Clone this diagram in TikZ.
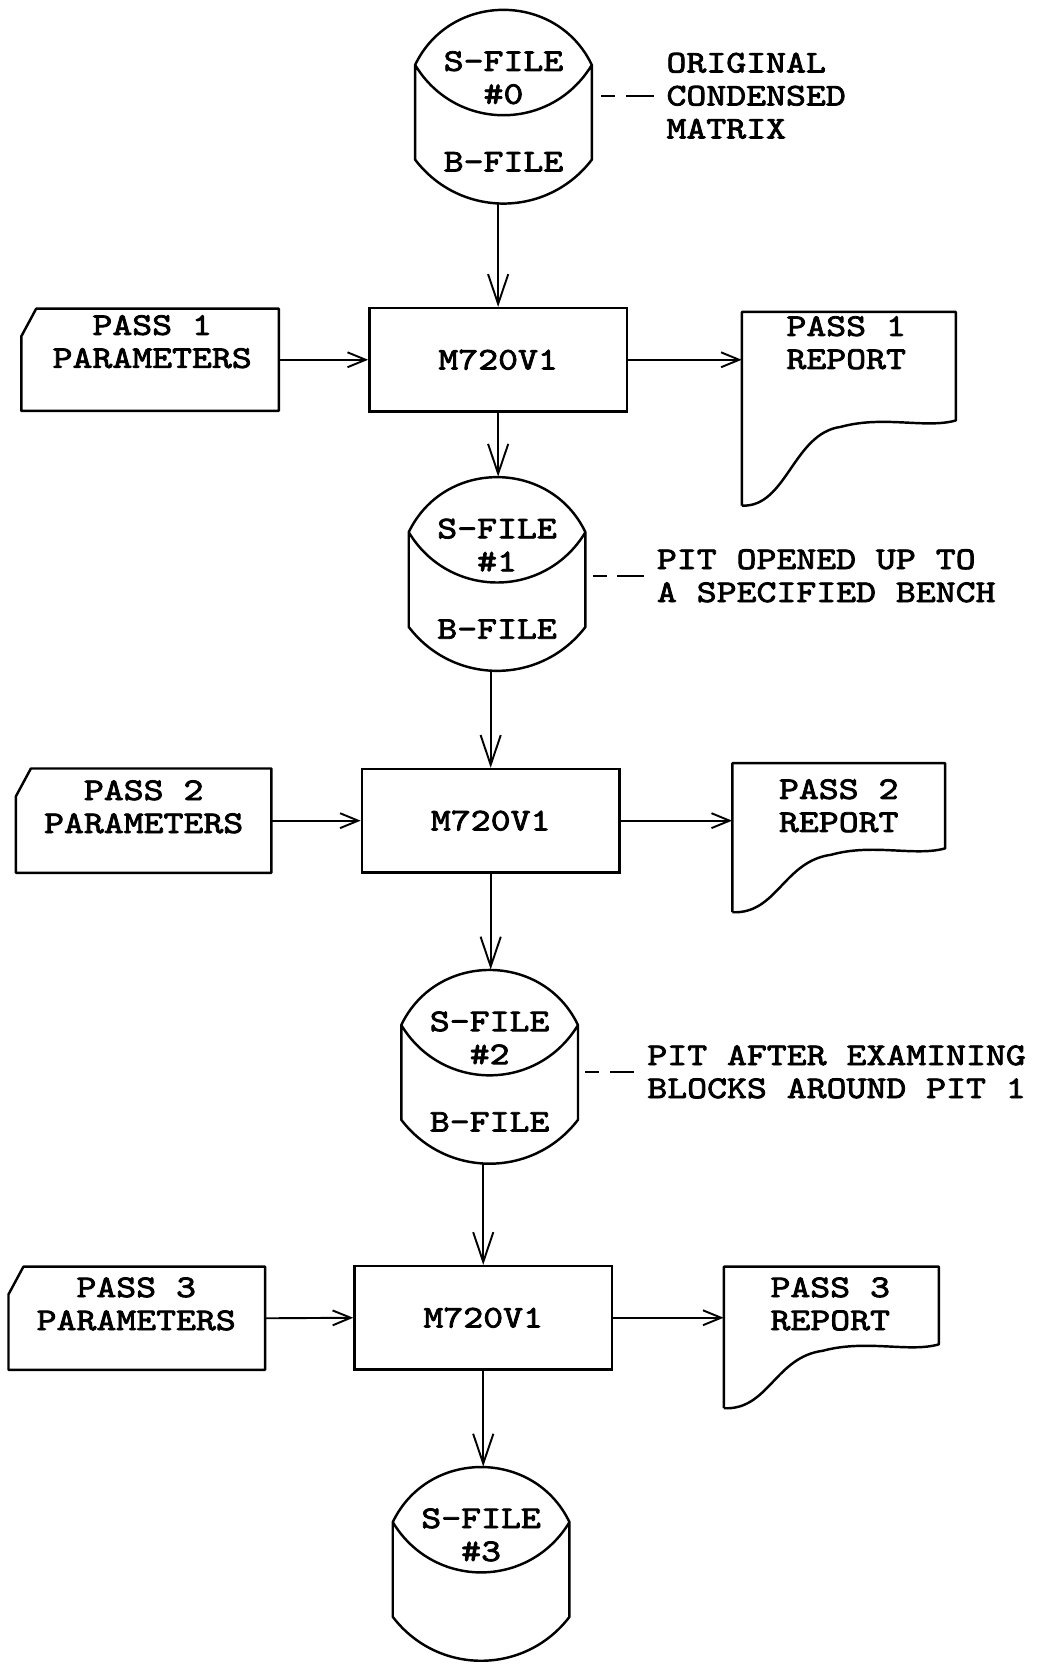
\documentclass[tikz,border=0pt]{standalone}
\usepackage{fontspec}
\newfontfamily\tw{lmmono10-regular.otf}[FakeStretch=1.2,FakeBold=2.5]
\usetikzlibrary{arrows.meta,calc}
\tikzset{
  every node/.style={font=\tw\fontsize{29.7}{31}\selectfont, align=center, inner sep=0pt},
  shp/.style={line width=2.3pt, line join=round},
  proc/.style={draw, line width=2.3pt, minimum width=242pt, minimum height=97pt},
  varr/.style={line width=1.8pt, -{Straight Barb[length=28pt,width=19pt,line width=1.8pt]}},
  harr/.style={line width=1.8pt, -{Straight Barb[length=17pt,width=14pt,line width=1.8pt]}},
  leader/.style={line width=2.2pt, dash pattern=on 13pt off 10pt on 40pt, shorten >=12pt},
}
% disk: name, cx, top, upper text, lower text
\newcommand\diskshape[5]{%
  \node[minimum width=166pt, minimum height=182pt] (#1) at (#2,#3+91) {};
  \draw[shp] (#2-83,#3+52) .. controls (#2-50,#3-17) and (#2+50,#3-17) .. (#2+83,#3+52)
     .. controls (#2+45,#3+115) and (#2-45,#3+115) .. (#2-83,#3+52) -- (#2-83,#3+141)
     .. controls (#2-41,#3+196) and (#2+41,#3+196) .. (#2+83,#3+141) -- (#2+83,#3+52);
  \node (#1t) at (#2,#3+64) {#4};
  \node (#1b) at (#2,#3+143) {#5};
}
% card: name, L, T, R, B
\newcommand\cardshape[5]{%
  \node[minimum width={(#4-#2)*1pt}, minimum height={(#5-#3)*1pt}] (#1) at ({(#2+#4)/2},{(#3+#5)/2}) {};
  \draw[shp] (#2+14,#3) -- (#4,#3) -- (#4,#5) -- (#2,#5) -- (#2,#3+26) -- cycle;
}
% document: name, L, T, R, Bleft, Bright
\newcommand\docshape[6]{%
  \node[minimum width={(#4-#2)*1pt}, minimum height={(#6-#3)*1pt}] (#1) at ({(#2+#4)/2},{(#3+#6)/2}) {};
  \draw[shp] (#2,#5) -- (#2,#3) -- (#4,#3) -- (#4,#6)
     .. controls (#4-28,#6+8) and (#4-68,#6-5) .. (#2+93,#6+6)
     .. controls (#2+48,#6+12) and (#2+42,#5+2) .. (#2,#5);
}
\begin{document}
\begin{tikzpicture}[x=1pt,y=-1pt]
\useasboundingbox (0,0) rectangle (976,1568);
% disks
\diskshape{d0}{473}{9}{S-FILE\\\#0}{B-FILE}
\diskshape{d1}{467}{448}{S-FILE\\\#1}{B-FILE}
\diskshape{d2}{460}{911}{S-FILE\\\#2}{B-FILE}
\diskshape{d3}{452}{1378}{S-FILE\\\#3}{}
% process boxes
\node[proc] (p1) at (468,338) {M720V1};
\node[proc] (p2) at (461,771) {M720V1};
\node[proc] (p3) at (454,1238) {M720V1};
% parameter cards
\cardshape{c1}{20}{290}{262}{386}
\cardshape{c2}{15}{722}{255}{820}
\cardshape{c3}{8}{1190}{249}{1287}
\node (c1t) at (143,321) {PASS 1\\PARAMETERS};
\node (c2t) at (135,758) {PASS 2\\PARAMETERS};
\node (c3t) at (128,1225) {PASS 3\\PARAMETERS};
% reports
\docshape{r1}{697}{293}{898}{475}{395}
\docshape{r2}{688}{717}{888}{857}{797}
\docshape{r3}{680}{1190}{882}{1323}{1263}
\node (r1t) at (795,322) {PASS 1\\REPORT};
\node (r2t) at (788,757) {PASS 2\\REPORT};
\node (r3t) at (780,1225) {PASS 3\\REPORT};
% annotations
\node[anchor=west, align=left] (a0) at (626,90) {ORIGINAL\\CONDENSED\\MATRIX};
\node[anchor=west, align=left] (a1) at (617,541) {PIT OPENED UP TO\\A SPECIFIED BENCH};
\node[anchor=west, align=left] (a2) at (608,1007) {PIT AFTER EXAMINING\\BLOCKS AROUND PIT 1};
\coordinate (l0) at (565,90);
\coordinate (l1) at (557,541);
\coordinate (l2) at (550,1007);
\draw[leader] (l0) -- (a0.west);
\draw[leader] (l1) -- (a1.west);
\draw[leader] (l2) -- (a2.west);
% vertical flow
\draw[varr] (p1.north |- d0.south) -- (p1.north);
\draw[varr] (p1.south) -- (p1.south |- d1.north);
\draw[varr] (p2.north |- d1.south) -- (p2.north);
\draw[varr] (p2.south) -- (p2.south |- d2.north);
\draw[varr] (p3.north |- d2.south) -- (p3.north);
\draw[varr] (p3.south) -- (p3.south |- d3.north);
% horizontal flow
\draw[harr] (c1.east) -- (p1.west);
\draw[harr] (c2.east) -- (p2.west);
\draw[harr] (c3.east) -- (p3.west);
\draw[harr] (p1.east) -- (p1.east -| r1.west);
\draw[harr] (p2.east) -- (p2.east -| r2.west);
\draw[harr] (p3.east) -- (p3.east -| r3.west);
\end{tikzpicture}
\end{document}
